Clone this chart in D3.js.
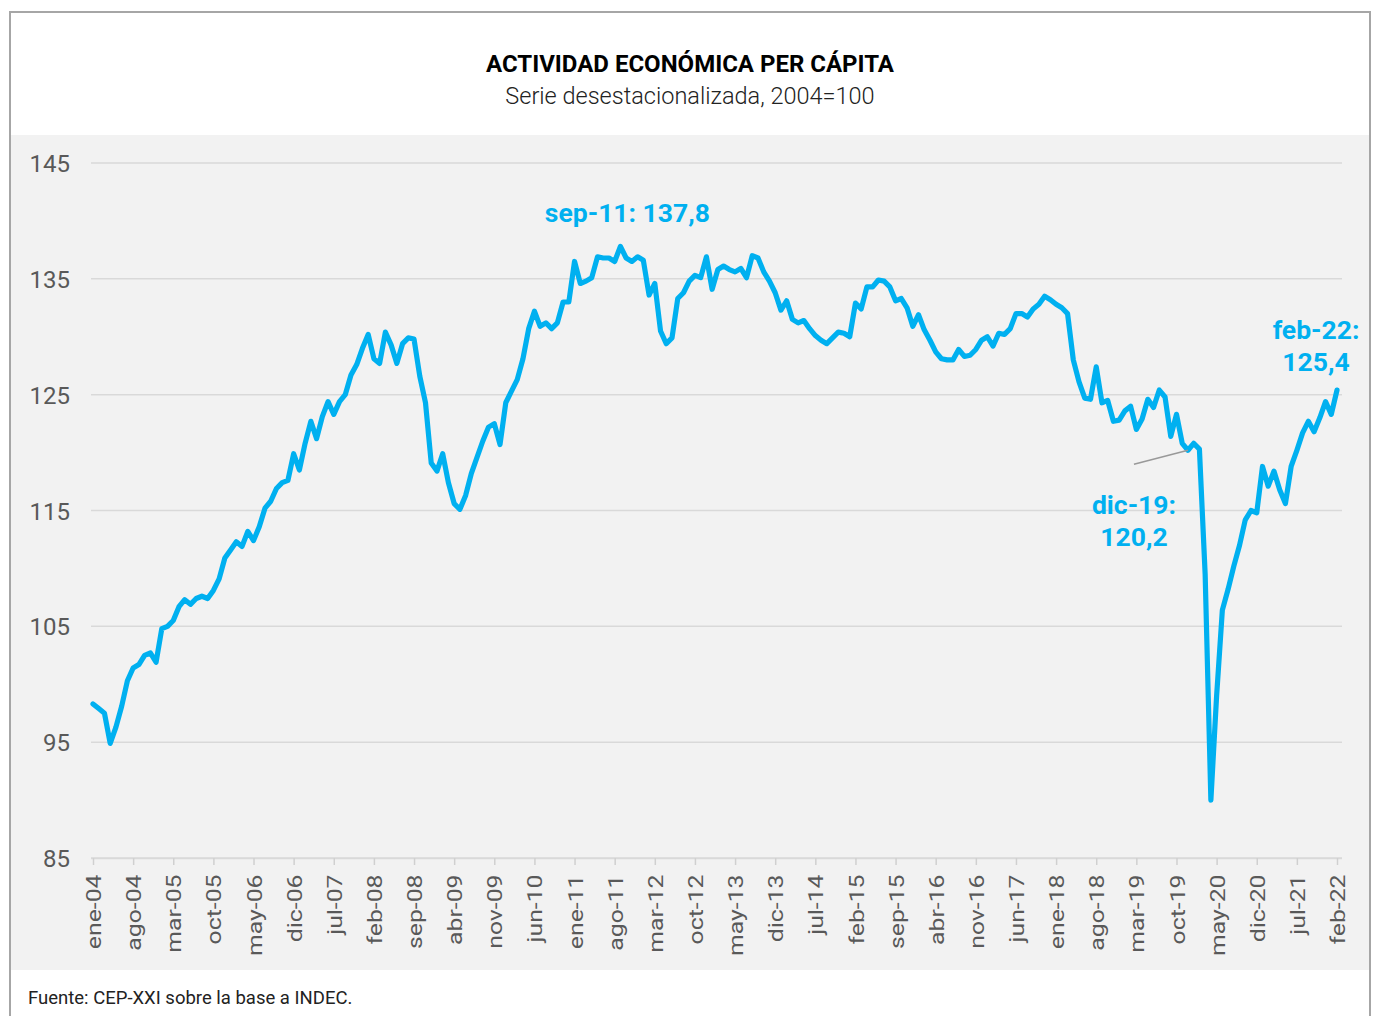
<!DOCTYPE html>
<html>
<head>
<meta charset="utf-8">
<script src="https://cdn.jsdelivr.net/npm/d3@7"></script>
<style>
  body { margin: 0; background: #fff; }
  svg { display: block; font-family: Roboto, "Open Sans", sans-serif; }
</style>
</head>
<body>
<div id="chart"></div>
<script>
// serie mensual ene-04 .. feb-22 (desestacionalizada, 2004=100)
const months = ["ene","feb","mar","abr","may","jun","jul","ago","sep","oct","nov","dic"];
const startYear = 2004;
const values = [
  98.3, 97.9, 97.5, 94.9, 96.3, 98.1, 100.3, 101.4, 101.7, 102.5, 102.7, 101.9,
  104.8, 105.0, 105.5, 106.7, 107.3, 106.9, 107.4, 107.6, 107.4, 108.1, 109.1, 110.9,
  111.6, 112.3, 111.9, 113.2, 112.4, 113.6, 115.2, 115.8, 116.9, 117.4, 117.6, 119.9,
  118.5, 120.8, 122.7, 121.2, 123.1, 124.4, 123.3, 124.4, 125.0, 126.7, 127.6, 129.0,
  130.2, 128.1, 127.7, 130.4, 129.3, 127.7, 129.4, 129.9, 129.8, 126.6, 124.3, 119.1,
  118.4, 119.9, 117.4, 115.6, 115.1, 116.3, 118.2, 119.6, 121.0, 122.2, 122.5, 120.7,
  124.3, 125.3, 126.3, 128.1, 130.7, 132.2, 130.9, 131.2, 130.7, 131.2, 133.0, 133.0,
  136.5, 134.6, 134.8, 135.1, 136.9, 136.8, 136.8, 136.5, 137.8, 136.8, 136.5, 136.9,
  136.6, 133.6, 134.6, 130.5, 129.4, 129.9, 133.3, 133.8, 134.8, 135.3, 135.1, 136.9,
  134.1, 135.8, 136.1, 135.8, 135.6, 135.9, 135.1, 137.0, 136.8, 135.6, 134.8, 133.8,
  132.3, 133.1, 131.5, 131.2, 131.4, 130.7, 130.1, 129.7, 129.4, 129.9, 130.4, 130.3,
  130.0, 132.9, 132.4, 134.3, 134.3, 134.9, 134.8, 134.3, 133.1, 133.3, 132.5, 130.9,
  131.9, 130.6, 129.7, 128.7, 128.1, 128.0, 128.0, 128.9, 128.3, 128.4, 128.9, 129.7,
  130.0, 129.2, 130.3, 130.2, 130.7, 132.0, 132.0, 131.7, 132.4, 132.8, 133.5, 133.2,
  132.8, 132.5, 132.0, 128.0, 126.1, 124.7, 124.6, 127.4, 124.3, 124.5, 122.7, 122.8,
  123.6, 124.0, 122.0, 122.9, 124.6, 123.9, 125.4, 124.8, 121.4, 123.3, 120.8, 120.2,
  120.8, 120.3, 109.5, 90.0, 99.0, 106.4, 108.2, 110.2, 112.0, 114.2, 115.0, 114.8,
  118.8, 117.1, 118.4, 116.8, 115.6, 118.8, 120.2, 121.7, 122.7, 121.8, 123.0, 124.4,
  123.3, 125.4
];
const tickLabels = ["ene-04","ago-04","mar-05","oct-05","may-06","dic-06","jul-07","feb-08",
  "sep-08","abr-09","nov-09","jun-10","ene-11","ago-11","mar-12","oct-12","may-13","dic-13",
  "jul-14","feb-15","sep-15","abr-16","nov-16","jun-17","ene-18","ago-18","mar-19","oct-19",
  "may-20","dic-20","jul-21","feb-22"];
const yTicks = [85, 95, 105, 115, 125, 135, 145];
const labeled = [
  {idx: 92,  lines: ["sep-11: 137,8"]},
  {idx: 217, lines: ["feb-22:", "125,4"]},
  {idx: 191, lines: ["dic-19:", "120,2"]}
];

const data = values.map((v, i) => ({
  i: i,
  label: months[i % 12] + "-" + String((startYear + Math.floor(i / 12)) % 100).padStart(2, "0"),
  v: v
}));

var width = 1375, height = 1016;
const blue = "#00b0f0";

const svg = d3.select("#chart").append("svg")
  .attr("width", width)
  .attr("height", height);

// marco y fondo
svg.append("rect").attr("x", 0).attr("y", 0).attr("width", width).attr("height", height).attr("fill", "#fff");
svg.append("rect").attr("x", 10).attr("y", 135).attr("width", 1360).attr("height", 835).attr("fill", "#f2f2f2");
svg.append("rect").attr("x", 10).attr("y", 12).attr("width", 1360).attr("height", 1030)
  .attr("fill", "none").attr("stroke", "#a6a6a6").attr("stroke-width", 2);

svg.append("text").attr("x", 690).attr("y", 72).attr("text-anchor", "middle")
  .attr("font-size", 24).attr("font-weight", "bold").attr("fill", "#000")
  .text("ACTIVIDAD ECONÓMICA PER CÁPITA");
svg.append("text").attr("x", 690).attr("y", 104).attr("text-anchor", "middle")
  .attr("font-size", 23.5).attr("font-weight", 300).attr("fill", "#222")
  .text("Serie desestacionalizada, 2004=100");

svg.append("text").attr("x", 28).attr("y", 1004)
  .attr("font-size", 18.5).attr("fill", "#222")
  .text("Fuente: CEP-XXI sobre la base a INDEC.");

const x = d3.scaleLinear().domain([0, values.length - 1]).range([93, 1337]);
const y = d3.scaleLinear().domain([85, 145]).range([858, 163]);

// grilla
svg.append("g").selectAll("line").data(yTicks).join("line")
  .attr("x1", 91).attr("x2", 1342)
  .attr("y1", d => y(d)).attr("y2", d => y(d))
  .attr("stroke", "#d9d9d9").attr("stroke-width", 1.5);

svg.append("g").selectAll("text").data(yTicks).join("text")
  .attr("x", 70).attr("y", d => y(d) + 9)
  .attr("text-anchor", "end").attr("font-size", 24).attr("fill", "#595959")
  .text(d => d);

// eje x
const tickIdx = tickLabels.map((t, k) => k * 7);
const xAxis = d3.axisBottom(x).tickValues(tickIdx).tickFormat((d, k) => tickLabels[k]).tickSize(7).tickPadding(6);
const gx = svg.append("g").attr("transform", "translate(0,858)").call(xAxis);
gx.select(".domain").attr("stroke", "#d9d9d9").attr("stroke-width", 1.5).attr("d", "M91,0.5H1342");
gx.selectAll(".tick line").attr("stroke", "#d0d0d0").attr("stroke-width", 1.5);
gx.selectAll(".tick text")
  .attr("font-size", 21).attr("fill", "#595959").attr("font-family", "Roboto, sans-serif")
  .attr("transform", "rotate(-90) scale(1.18,1)")
  .attr("text-anchor", "end")
  .attr("x", -14).attr("y", 0).attr("dy", "0.36em");

// linea
const line = d3.line().x(d => x(d.i)).y(d => y(d.v));
svg.append("path").datum(data)
  .attr("d", line)
  .attr("fill", "none").attr("stroke", blue).attr("stroke-width", 5.2)
  .attr("stroke-linejoin", "round").attr("stroke-linecap", "round");

// etiquetas
const pos = {
  92:  {dx: 7, dy: -24},
  217: {dx: -21, dy: -51},
  191: {dx: -54, dy: 64}
};
labeled.forEach(l => {
  const d = data[l.idx];
  const p = pos[l.idx];
  const t = svg.append("text")
    .attr("x", x(d.i) + p.dx).attr("y", y(d.v) + p.dy)
    .attr("text-anchor", "middle").attr("font-size", 26.5).attr("font-weight", "bold").attr("fill", blue);
  l.lines.forEach((s, k) => t.append("tspan").attr("x", x(d.i) + p.dx).attr("dy", k ? 32 : 0).text(s));
});

// guia dic-19
const dic = data[191];
svg.append("line")
  .attr("x1", x(dic.i) - 54).attr("y1", y(dic.v) + 14)
  .attr("x2", x(dic.i)).attr("y2", y(dic.v))
  .attr("stroke", "#999").attr("stroke-width", 1.5);
</script>
</body>
</html>
